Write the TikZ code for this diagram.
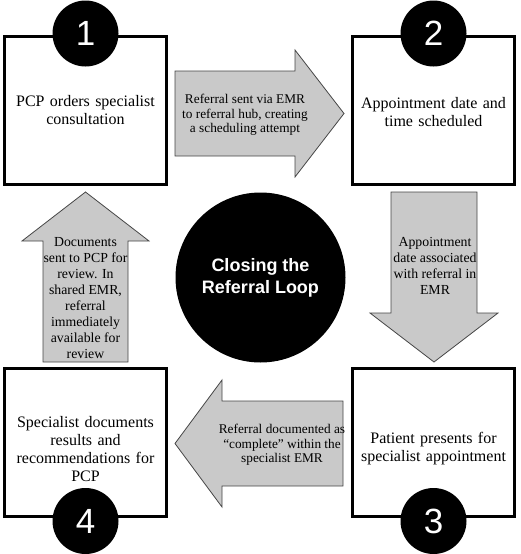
\documentclass[tikz,border=0pt]{standalone}
\usepackage{fontspec}
\setmainfont{Liberation Serif}
\setsansfont{Liberation Sans}
\usepackage{tikz}
\usetikzlibrary{positioning, calc}
\definecolor{arrowgray}{RGB}{201,201,201}
\definecolor{edgegray}{RGB}{70,70,70}

\begin{document}
\begin{tikzpicture}[x=1pt, y=-1pt,
  stepbox/.style={draw=black, line width=3pt, fill=white, minimum width=162pt, minimum height=148pt, inner sep=0pt},
  boxtext/.style={text width=152pt, align=center, inner sep=0pt, font=\fontsize{16}{18}\selectfont},
  numdot/.style={circle, fill=black, minimum size=66pt, inner sep=0pt, text=white, font=\sffamily\fontsize{35}{35}\selectfont},
  grayarrow/.style={draw=edgegray, line width=0.8pt, fill=arrowgray, line join=miter},
  arrowtext/.style={align=center, inner sep=0pt, font=\fontsize{13.3}{14.5}\selectfont},
  vtext/.style={align=center, inner sep=0pt, font=\fontsize{13.8}{16}\selectfont}]
\useasboundingbox (0,0) rectangle (520,554);

% Step boxes
\node[stepbox] (box1) at (85.5,110.5) {};
\node[stepbox] (box2) at (433.5,110.5) {};
\node[stepbox] (box3) at (433.5,442) {};
\node[stepbox] (box4) at (85.5,442) {};

\node[boxtext] (t1) at (box1.center) {PCP orders specialist\\consultation};
\node[boxtext] (t2) at ([yshift=-2pt]box2.center) {Appointment date and\\time scheduled};
\node[boxtext] (t3) at ([yshift=-7pt]box3.center) {Patient presents for\\specialist appointment};
\node[boxtext] (t4) at ([yshift=-7pt]box4.center) {Specialist documents\\results and\\recommendations for\\PCP};

% Step numbers
\node[numdot] (n1) at ([yshift=1.5pt]box1.north) {1};
\node[numdot] (n2) at ([yshift=1.5pt]box2.north) {2};
\node[numdot] (n3) at ([yshift=-3.5pt]box3.south) {3};
\node[numdot] (n4) at ([yshift=-3.5pt]box4.south) {4};

% Block arrows
\draw[grayarrow] (175,71) -- (295,71) -- (295,50) -- (344,113.5) -- (295,177) -- (295,156) -- (175,156) -- cycle;
\draw[grayarrow] (391,192) -- (477,192) -- (477,313) -- (498,313) -- (434,362) -- (370,313) -- (391,313) -- cycle;
\draw[grayarrow] (343,401) -- (222,401) -- (222,380) -- (175,443.5) -- (222,507) -- (222,486) -- (343,486) -- cycle;
\draw[grayarrow] (43,362) -- (43,241) -- (22,241) -- (85.5,192) -- (149,241) -- (128,241) -- (128,362) -- cycle;

\node[arrowtext] (a12) at (245,115) {Referral sent via EMR\\to referral hub, creating\\a scheduling attempt};
\node[vtext] (a23) at (435,266) {Appointment\\date associated\\with referral in\\EMR};
\node[arrowtext] (a34) at (282,445) {Referral documented as\\“complete” within the\\specialist EMR};
\node[vtext] (a41) at (85.5,298) {Documents\\sent to PCP for\\review. In\\shared EMR,\\referral\\immediately\\available for\\review};

% Hub circle
\node[circle, fill=black, minimum size=170pt, inner sep=0pt, text=white, align=center,
  font=\sffamily\bfseries\fontsize{18}{22}\selectfont] (hub) at (260.5,277.5) {Closing the\\Referral Loop};
\end{tikzpicture}
\end{document}
